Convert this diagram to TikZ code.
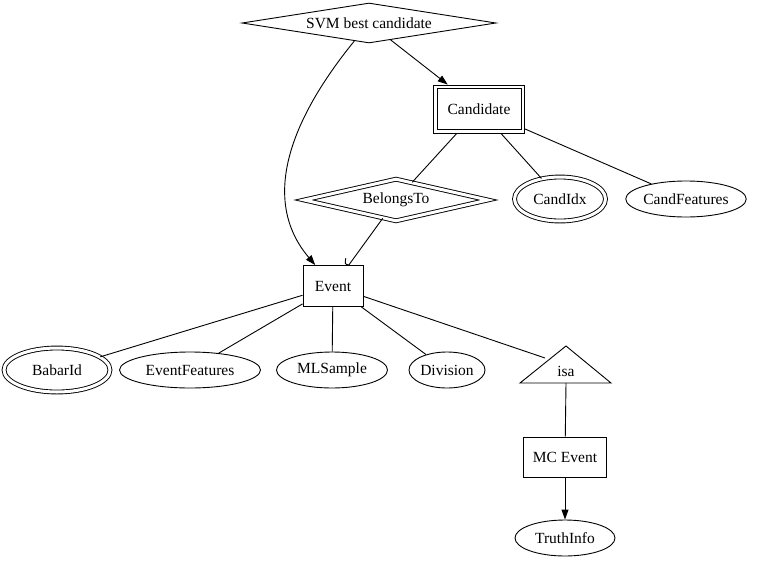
\documentclass[tikz,border=0pt]{standalone}
\usepackage{fontspec}
\setmainfont{Liberation Serif}
\usetikzlibrary{shapes.geometric,arrows.meta,calc}
\begin{document}
\begin{tikzpicture}[x=1pt,y=-1pt,line width=0.9pt,
  font=\fontsize{15.5pt}{18pt}\selectfont,
  every node/.style={inner sep=0pt},
  entbox/.style={draw, rectangle, minimum width=#1, minimum height=41pt},
  entbox/.default=60pt,
  attr/.style={draw, ellipse, minimum height=36pt, minimum width=#1},
  keyattr/.style={draw, ellipse, double, double distance=3pt, minimum height=44pt, minimum width=#1},
  rel/.style={draw, diamond},
  arr/.style={-{Triangle[length=10pt,width=7pt]}}
]
\useasboundingbox (0,0) rectangle (768,562);

% nodes
\node[rel, aspect=6.3, minimum width=254pt, minimum height=40pt] (svm) at (369,23) {SVM best candidate};
\node[draw, rectangle, minimum width=91pt, minimum height=48pt] (cand) at (479,109) {Candidate};
\draw ($(cand.north west)+(4,4)$) rectangle ($(cand.south east)+(-4,-4)$);
\node[rel, double, double distance=3pt, aspect=4.4, minimum width=184pt, minimum height=42pt] (belongs) at (396,200) {BelongsTo};
\node[keyattr=91pt] (candidx) at (560,199) {CandIdx};
\node[attr=112pt] (candfeat) at (686,199) {CandFeatures};
\node[entbox] (event) at (333,286) {Event};
\node[keyattr=106pt] (babar) at (57,370) {BabarId};
\node[attr=141pt] (evfeat) at (190,370) {EventFeatures};
\node[attr=111pt] (mls) at (332,370) {MLSample};
\node[attr=76pt] (div) at (447,370) {Division};
\node (isa) at (566,371) {isa};
\coordinate (isaT) at (566,346);
\coordinate (isaL) at (520,383);
\coordinate (isaR) at (611,383);
\coordinate (isaB) at (566,383);
\coordinate (isaE) at (545,358);
\draw (isaT) -- (isaR) -- (isaL) -- cycle;
\node[draw, rectangle, minimum width=83pt, minimum height=40pt] (mc) at (565,457) {MC Event};
\node[attr=100pt] (truth) at (565,538) {TruthInfo};

% edges
\draw[arr] (svm) -- (cand);
\draw[arr] (svm) .. controls (290,120) and (260,200) .. (event);
\draw (cand) -- (belongs);
\draw (cand) -- (candidx);
\draw (cand) -- (candfeat);
\coordinate (hookE) at (event.53.8);
\draw (belongs) -- (hookE);
\draw ($(hookE)+(-3,-7)$) .. controls ($(hookE)+(-4,-1)$) .. (hookE);
\draw (event) -- (babar);
\draw (event) -- (evfeat);
\draw (event) -- (mls);
\draw (event) -- (div);
\draw (event) -- (isaE);
\draw (isaB) -- (mc);
\draw[arr] (mc) -- (truth);
\end{tikzpicture}
\end{document}
